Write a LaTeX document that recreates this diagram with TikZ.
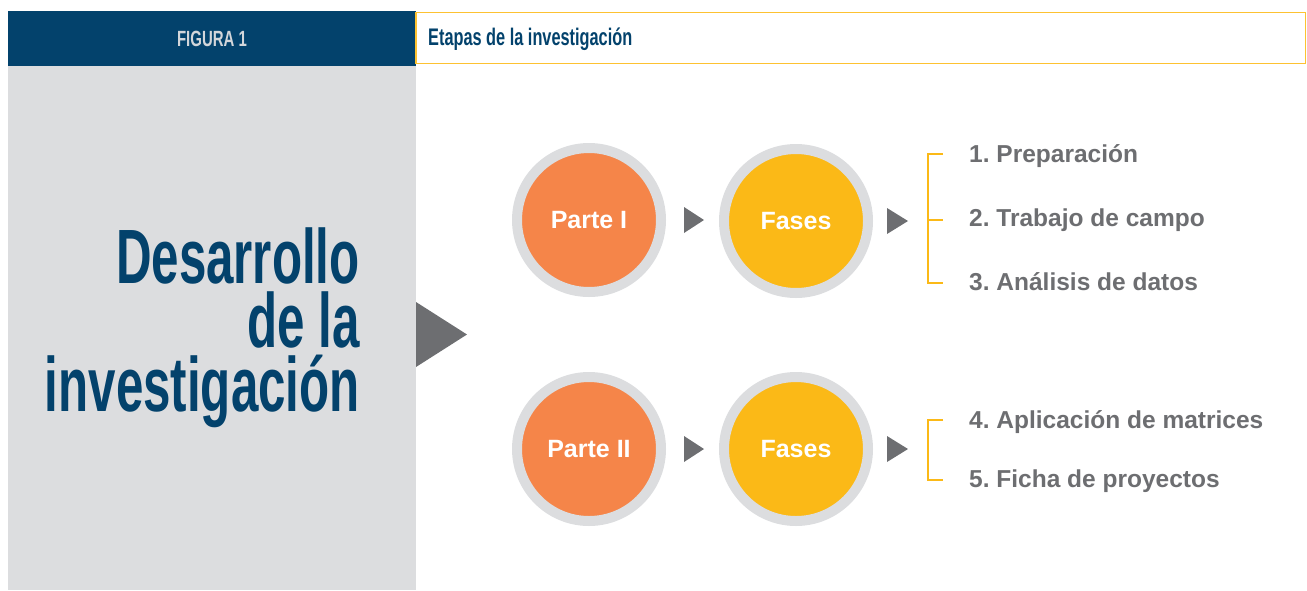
\documentclass[tikz,border=0pt]{standalone}
\usepackage{fontspec}
\setmainfont{Liberation Sans}
\newfontfamily\condfont[FakeStretch=0.68]{Liberation Sans}
\newfontfamily\titlefont[FakeStretch=0.64]{Liberation Sans}
\frenchspacing
\definecolor{navy}{HTML}{03426C}
\definecolor{panelgray}{HTML}{DCDDDF}
\definecolor{ringgray}{HTML}{DCDDDF}
\definecolor{darkgray}{HTML}{6D6E71}
\definecolor{orangec}{HTML}{F58549}
\definecolor{yellowc}{HTML}{FBB917}
\definecolor{yellowline}{HTML}{FDC231}
\definecolor{figtext}{HTML}{D3D6DA}
\tikzset{
  ring/.style={circle, draw=ringgray, line width=10pt, minimum size=144pt, inner sep=0pt,
    text=white, font=\fontsize{25}{28}\selectfont\bfseries},
  partec/.style={ring, fill=orangec},
  fasec/.style={ring, fill=yellowc},
  item/.style={anchor=base west, inner sep=0pt, text=darkgray, font=\fontsize{24.5}{28}\selectfont\bfseries},
  titlebox/.style={anchor=base east, inner sep=0pt, align=right, text=navy, font=\titlefont\fontsize{77}{64}\selectfont\bfseries},
  arrowtri/.style={fill=darkgray},
  bracket/.style={draw=yellowc, line width=2pt},
}
\begin{document}
\begin{tikzpicture}[x=1pt,y=-1pt]
\useasboundingbox (0,0) rectangle (1307,590);
% header
\fill[navy] (8,11) rectangle (416,66);
\draw[yellowline, line width=1.5pt] (416,12.5) rectangle (1305.5,63.5);
\node[text=figtext, font=\condfont\fontsize{22}{26}\selectfont\bfseries, inner sep=0pt] (fig) at (212,39) {FIGURA 1};
\node[anchor=base west, text=navy, font=\condfont\fontsize{24}{28}\selectfont\bfseries, inner sep=0pt] (etapas) at (428,45) {Etapas de la investigación};
% side panel
\fill[panelgray] (8,66) rectangle (416,590);
\node[titlebox] (title) at (360,411) {Desarrollo\\de la\\investigación};
\fill[darkgray] (416,302) -- (467,334.5) -- (416,367) -- cycle;
% row 1
\node[partec] (p1) at (589,220) {Parte I};
\node[fasec] (f1) at (796,221) {Fases};
\fill[arrowtri] ([xshift=18pt,yshift=13pt]p1.east) -- ++(20,13) -- ++(-20,13) -- cycle;
\fill[arrowtri] ([xshift=14pt,yshift=13pt]f1.east) -- ++(21,13) -- ++(-21,13) -- cycle;
\coordinate (b1t) at (943,154);
\coordinate (b1m) at (943,220);
\coordinate (b1b) at (943,283);
\draw[bracket] (b1t) -- (928,154) -- (928,283) -- (b1b);
\draw[bracket] (928,220) -- (b1m);
\node[item] (i1) at (969,162) {1. Preparación};
\node[item] (i2) at (969,226.5) {2. Trabajo de campo};
\node[item] (i3) at (969,290) {3. Análisis de datos};
% row 2
\node[partec] (p2) at (589,449) {Parte II};
\node[fasec] (f2) at (796,449) {Fases};
\fill[arrowtri] ([xshift=18pt,yshift=13pt]p2.east) -- ++(20,13) -- ++(-20,13) -- cycle;
\fill[arrowtri] ([xshift=14pt,yshift=13pt]f2.east) -- ++(21,13) -- ++(-21,13) -- cycle;
\coordinate (b2t) at (943,420);
\coordinate (b2b) at (943,480);
\draw[bracket] (b2t) -- (928,420) -- (928,480) -- (b2b);
\node[item] (i4) at (969,428) {4. Aplicación de matrices};
\node[item] (i5) at (969,487) {5. Ficha de proyectos};
\end{tikzpicture}
\end{document}
